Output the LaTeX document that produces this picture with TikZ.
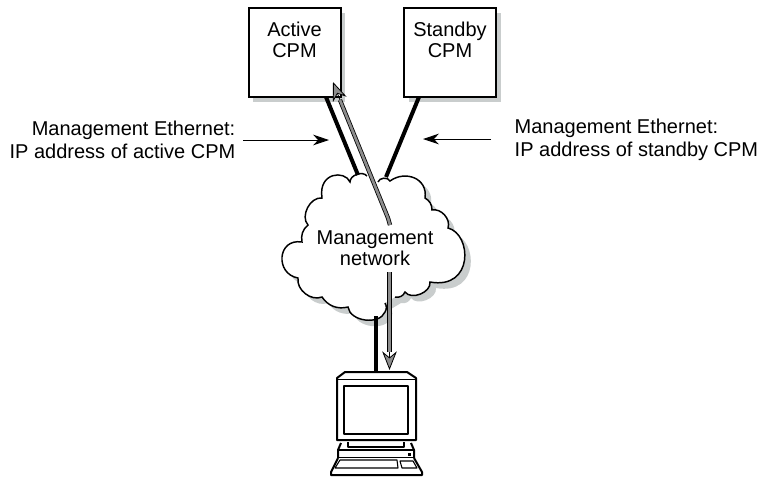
\documentclass[tikz,border=0pt]{standalone}
\usepackage{fontspec}
\setmainfont{Liberation Sans}
\usetikzlibrary{arrows.meta, positioning, shadows}
\definecolor{shadowgray}{HTML}{C9CDCD}
\definecolor{arrowgray}{HTML}{8C8C8C}
\tikzset{
  cpmbox/.style={draw, fill=white, line width=1.5pt, minimum width=69pt, minimum height=66.5pt,
    drop shadow={shadow xshift=3.5pt, shadow yshift=-3.5pt, opacity=1, fill=shadowgray}},
  boxtext/.style={align=center, font=\fontsize{15}{15.75}\selectfont},
  sidetext/.style={font=\fontsize{15}{17}\selectfont},
  thickline/.style={line width=3pt, line cap=butt},
  leader/.style={-{Stealth[length=12pt,width=8pt]}, line width=.7pt},
  grayshaft/.style={draw=black, line width=.6pt, double=arrowgray, double distance=2pt},
  grayhead/.style={-{Stealth[length=14pt,width=11pt,fill=arrowgray]}, line width=.6pt},
  pcline/.style={line width=1.5pt, line join=round},
  pcthin/.style={line width=.8pt, line join=round}
}
% upper and lower half of the cloud outline, each left open at the gray arrows
\newcommand{\cloudright}{(378,182) to[bend left=70] (390,181) .. controls (405,170) and (428,178) .. (425,198)
  to[bend left=30] (432,210) to[bend left=60] (448,228) .. controls (472,234) and (474,290) .. (430,282)
  to[bend left=75] (405,292) to[bend left=40] (395,297)}
\newcommand{\cloudleft}{(385,303) to[bend left=30] (385,312) to[bend left=75] (348,307)
  to[bend left=35] (322,297) to[bend left=60] (298,278) .. controls (275,274) and (277,238) .. (302,242)
  to[bend left=30] (308,225) to[bend left=70] (322,198) .. controls (318,172) and (345,170) .. (350,182)
  to[bend left=70] (367,176)}
\begin{document}
\begin{tikzpicture}[x=.75pt, y=-.75pt]
  \useasboundingbox (0,0) rectangle (764,476);

  % Boxes
  \node[cpmbox] (active) at (294.5,52.5) {};
  \node[cpmbox] (standby) at (450,52.5) {};
  \node[boxtext] (activetext) at (294.5,40) {Active\\CPM};
  \node[boxtext] (standbytext) at (450,40) {Standby\\CPM};

  % Cloud
  \fill[shadowgray, xshift=4.5pt, yshift=-4.5pt] \cloudright -- \cloudleft -- cycle;
  \fill[white] \cloudright -- \cloudleft -- cycle;
  \draw[line width=1.1pt] \cloudright;
  \draw[line width=1.1pt] \cloudleft;
  \node[boxtext] (network) at (375,248) {Management\\network};

  % Free ends of the connectors
  \coordinate (activefoot) at (326,97);
  \coordinate (activecloud) at (358,175);
  \coordinate (standbyfoot) at (419,97);
  \coordinate (standbycloud) at (386,177);
  \coordinate (cloudfoot) at (376,316);
  \coordinate (pctop) at (376,372);
  \draw[thickline] (activefoot) -- (activecloud);
  \draw[thickline] (standbyfoot) -- (standbycloud);
  \draw[thickline] (cloudfoot) -- (pctop);

  % Gray arrows
  \coordinate (upstart) at (390,225);
  \coordinate (upbend) at (388,218);
  \coordinate (upneck) at (340,100);
  \coordinate (uptip) at (333,82);
  \coordinate (downstart) at (389.5,272);
  \coordinate (downneck) at (389.5,352);
  \coordinate (downtip) at (389.5,370);
  \draw[grayshaft] (upstart) -- (upbend) -- (upneck);
  \draw[grayhead] (upneck) -- (uptip);
  \draw[grayshaft] (downstart) -- (downneck);
  \draw[grayhead] (downneck) -- (downtip);

  % Labels
  \node[sidetext, align=right, anchor=east] (leftlabel) at (240,140) {Management Ethernet:\\IP address of active CPM};
  \node[sidetext, align=left, anchor=west] (rightlabel) at (510,140) {Management Ethernet:\\IP address of standby CPM};
  \coordinate (lefttip) at (329,140);
  \coordinate (righttip) at (423,139);
  \draw[leader] (243,140) coordinate (leftstart) -- (lefttip);
  \draw[leader] (491,139) coordinate (rightstart) -- (righttip);

  % Computer
  \draw[pcline, fill=white] (337,378) -- (345,372) -- (407,372) -- (416,378) -- (416,440) -- (337,440) -- cycle;
  \draw[pcthin] (337,379.5) -- (416,379.5);
  \draw[pcline] (344,386) rectangle (408,434);
  \draw[pcline] (348,442) -- (348,447) -- (404,447) -- (404,442);
  \draw[pcline] (341,443) -- (338,450) -- (338,458) -- (414,458) -- (414,450) -- (411,443);
  \draw[pcline] (338,450) -- (414,450);
  \fill (407.5,452.5) rectangle (411,456);
  \draw[pcline, fill=white] (338,458) -- (331,472) -- (331,475) -- (422,475) -- (422,472) -- (414,458);
  \draw[pcthin] (340,460) -- (335,468) -- (398,468) -- (397,460) -- cycle;
  \draw[pcthin] (400,461) -- (413,461) -- (417,468) -- (402,468) -- cycle;
\end{tikzpicture}
\end{document}
